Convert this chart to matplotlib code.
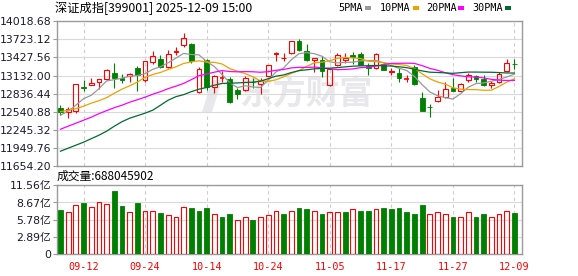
import matplotlib
matplotlib.use('Agg')
import matplotlib.pyplot as plt
from matplotlib.patches import Rectangle, Polygon

dates = ['09-09','09-10','09-11','09-12','09-15','09-16','09-17','09-18','09-19','09-22',
         '09-23','09-24','09-25','09-26','09-29','09-30','10-09','10-10','10-13','10-14',
         '10-15','10-16','10-17','10-20','10-21','10-22','10-23','10-24','10-27','10-28',
         '10-29','10-30','10-31','11-03','11-04','11-05','11-06','11-07','11-10','11-11',
         '11-12','11-13','11-14','11-17','11-18','11-19','11-20','11-21','11-24','11-25',
         '11-26','11-27','11-28','12-01','12-02','12-03','12-04','12-05','12-08','12-09']

opens = [12598, 12544, 12549, 12946, 12979, 13034, 13077, 13175, 13088, 13126,
         13252, 13051, 13345, 13394, 13263, 13518, 13622, 13648, 12855, 13382,
         12941, 13083, 13077, 12892, 12897, 13034, 12995, 13126, 13488, 13412,
         13496, 13688, 13524, 13377, 13387, 12969, 13296, 13387, 13469, 13480,
         13279, 13252, 13317, 13194, 13170, 13072, 13263, 12762, 12618, 12708,
         12778, 12925, 12887, 13051, 13132, 13072, 12969, 13034, 13198, 13322]
highs = [12656, 12615, 12995, 13051, 13088, 13080, 13240, 13333, 13154, 13170,
         13289, 13366, 13524, 13469, 13546, 13603, 13823, 13660, 13263, 13398,
         13142, 13208, 13105, 12925, 13116, 13088, 13088, 13300, 13513, 13496,
         13692, 13725, 13643, 13415, 13443, 13243, 13496, 13496, 13513, 13513,
         13333, 13496, 13333, 13252, 13252, 13142, 13296, 12860, 12664, 12897,
         13023, 13088, 13007, 13170, 13137, 13142, 13045, 13181, 13403, 13403]
lows = [12484, 12435, 12517, 12887, 12969, 12909, 13051, 12936, 13012, 13018,
        12887, 13034, 13317, 13252, 13252, 13472, 13590, 13333, 12843, 12897,
        12843, 13034, 12688, 12750, 12871, 12925, 12832, 13121, 13361, 13371,
        13488, 13524, 13374, 13186, 13105, 12966, 13292, 13333, 13317, 13305,
        13137, 13240, 13219, 13142, 13034, 13023, 12979, 12554, 12447, 12705,
        12770, 12871, 12860, 13023, 13034, 12953, 12936, 13007, 13194, 13240]
closes = [12533, 12582, 12990, 12936, 13007, 13072, 13219, 13088, 13056, 13158,
          13142, 13361, 13448, 13268, 13480, 13529, 13741, 13361, 13230, 12941,
          13116, 13088, 12696, 12832, 13088, 13018, 13051, 13296, 13496, 13418,
          13688, 13550, 13382, 13410, 13202, 13235, 13469, 13420, 13430, 13306,
          13252, 13480, 13224, 13203, 13088, 13077, 12990, 12554, 12611, 12778,
          12909, 12881, 12990, 13142, 13077, 12969, 13007, 13154, 13333, 13312]

# volume in 亿
volumes = [7.4, 7.0, 8.2, 8.6, 7.9, 8.7, 8.4, 10.6, 8.1, 7.0,
           8.6, 7.2, 7.2, 6.9, 6.5, 6.3, 7.9, 7.7, 7.2, 7.8,
           6.7, 6.3, 6.7, 5.8, 6.3, 5.8, 6.2, 6.5, 7.2, 6.8,
           7.3, 7.7, 7.5, 7.2, 6.8, 7.0, 7.0, 7.0, 7.5, 7.3,
           7.3, 7.5, 7.7, 7.5, 7.8, 7.0, 6.7, 8.2, 6.8, 7.0,
           6.8, 6.3, 6.2, 7.0, 6.3, 6.8, 6.3, 6.7, 7.3, 6.88]
vol_up = [0, 1, 1, 0, 1, 1, 1, 0, 0, 1,
          0, 1, 1, 0, 1, 1, 1, 0, 0, 0,
          1, 0, 0, 1, 1, 0, 1, 1, 1, 0,
          1, 0, 0, 1, 0, 1, 1, 0, 1, 0,
          0, 1, 0, 0, 0, 0, 0, 0, 1, 1,
          1, 0, 1, 1, 0, 0, 1, 1, 1, 0]

ma5 = [12484, 12549, 12647, 12753, 12809, 12917, 13044, 13064, 13088, 13119,
       13132, 13162, 13234, 13276, 13340, 13416, 13493, 13475, 13469, 13361,
       13278, 13147, 13015, 12935, 12964, 12945, 12936, 13057, 13190, 13255,
       13389, 13488, 13506, 13488, 13446, 13354, 13338, 13346, 13349, 13372,
       13376, 13377, 13338, 13292, 13250, 13214, 13116, 12982, 12865, 12802,
       12770, 12747, 12835, 12940, 13000, 13011, 13038, 13070, 13108, 13155]
ma10 = [12541, 12566, 12590, 12631, 12680, 12721, 12770, 12843, 12909, 12964,
        13025, 13103, 13149, 13182, 13230, 13274, 13328, 13354, 13372, 13350,
        13347, 13320, 13245, 13202, 13163, 13111, 13042, 13036, 13062, 13110,
        13167, 13212, 13282, 13339, 13350, 13372, 13413, 13426, 13419, 13409,
        13365, 13358, 13342, 13321, 13311, 13295, 13247, 13160, 13078, 13026,
        12992, 12931, 12909, 12902, 12901, 12891, 12892, 12953, 13024, 13078]
ma20 = [12255, 12304, 12353, 12402, 12451, 12509, 12558, 12607, 12647, 12696,
        12737, 12778, 12827, 12868, 12917, 12958, 13002, 13064, 13129, 13157,
        13186, 13212, 13197, 13192, 13196, 13193, 13185, 13195, 13217, 13230,
        13256, 13266, 13263, 13270, 13256, 13242, 13227, 13231, 13240, 13260,
        13266, 13285, 13312, 13330, 13331, 13333, 13330, 13293, 13248, 13217,
        13178, 13145, 13126, 13111, 13106, 13093, 13069, 13056, 13051, 13052]
ma30 = [11896, 11945, 11994, 12043, 12100, 12157, 12223, 12304, 12378, 12435,
        12476, 12517, 12566, 12647, 12729, 12786, 12819, 12868, 12909, 12936,
        12974, 13002, 13007, 13011, 13018, 13023, 13039, 13080, 13121, 13141,
        13180, 13212, 13225, 13241, 13247, 13252, 13261, 13273, 13284, 13289,
        13292, 13297, 13289, 13287, 13274, 13260, 13234, 13207, 13186, 13181,
        13175, 13167, 13178, 13188, 13188, 13186, 13185, 13180, 13173, 13172]

price_ticks = [11654.20, 11949.76, 12245.32, 12540.88, 12836.44,
               13132.00, 13427.56, 13723.12, 14018.68]
vol_ticks = [0, 2.89, 5.78, 8.67, 11.56]
vol_tick_labels = ['0', '2.89亿', '5.78亿', '8.67亿', '11.56亿']
label_dates = ['09-12', '09-24', '10-14', '10-24', '11-05', '11-17', '11-27', '12-09']
title_text = '深证成指[399001] 2025-12-09 15:00'
vol_title = '成交量:688045902'
ma_names = ['5PMA', '10PMA', '20PMA', '30PMA']

RED = '#ff0000'
GREEN = '#008000'
MA_COLORS = ['#999999', '#f0a000', '#ff00ff', '#006b33']
SPINE = '#9a9a9a'

W, H = 578, 276
fig = plt.figure(figsize=(W / 100, H / 100), dpi=100)


def rect(l, t, r, b):
    return [l / W, 1 - b / H, (r - l) / W, (b - t) / H]


ax = fig.add_axes(rect(57, 21.2, 522, 166))
axv = fig.add_axes(rect(57, 185.3, 522, 254))

n = len(closes)
xs = list(range(n))
xlim = (-0.45, n - 1 + 0.98)
label_pos = [dates.index(d) for d in label_dates]

for a in (ax, axv):
    a.set_xlim(*xlim)
    for s in a.spines.values():
        s.set_color(SPINE)
        s.set_linewidth(1.0)
    for p in label_pos:
        a.axvline(p, color='#cccccc', lw=0.8, ls=(0, (3, 3)), zorder=0)
    a.tick_params(axis='y', length=3, width=0.8, color=SPINE, pad=1,
                  labelcolor='#1a1a2e')

# watermark
ax.text(0.535, 0.49, '东方财富', transform=ax.transAxes, ha='center', va='center',
        fontsize=24, fontweight='bold', color='#e8e8ec',
        family=['Noto Sans CJK SC'], zorder=0)
px2 = lambda x, y: ((x - 57) / 465, (166 - y) / 144.8)
logo = Polygon([px2(212, 80), px2(222, 80), px2(212, 112), px2(202, 112)],
               closed=True, transform=ax.transAxes, facecolor='#e8e8ec',
               edgecolor='none', zorder=0)
ax.add_patch(logo)

# price grid
ax.set_ylim(price_ticks[0], price_ticks[-1])
ax.set_yticks(price_ticks)
ax.set_yticklabels(['%.2f' % v for v in price_ticks], fontsize=7.8,
                   family='DejaVu Sans')
for v in price_ticks[1:-1]:
    ax.axhline(v, color='#dadada', lw=0.8, zorder=0)
ax.set_xticks([])

# candles
w = 0.62
for i in xs:
    o, h, l, c = opens[i], highs[i], lows[i], closes[i]
    up = c >= o
    col = RED if up else GREEN
    lo, hi = min(o, c), max(o, c)
    if hi - lo < 6:
        ax.vlines(i, l, h, color=col, lw=0.8, zorder=3)
        ax.hlines((o + c) / 2, i - w / 2, i + w / 2, color=col, lw=1.2, zorder=3)
        continue
    if up:
        ax.add_patch(Rectangle((i - w / 2, lo), w, hi - lo, facecolor='none',
                               edgecolor=col, lw=0.8, zorder=3))
        ax.vlines(i, hi, h, color=col, lw=0.8, zorder=3)
        ax.vlines(i, l, lo, color=col, lw=0.8, zorder=3)
    else:
        ax.vlines(i, l, h, color=col, lw=0.8, zorder=3)
        ax.add_patch(Rectangle((i - w / 2, lo), w, hi - lo, facecolor=col,
                               edgecolor=col, lw=0.6, zorder=3))

for ma, colr in zip([ma5, ma10, ma20, ma30], MA_COLORS):
    ax.plot(xs, ma, color=colr, lw=0.9, zorder=4)

# volume
axv.set_ylim(0, vol_ticks[-1])
axv.set_yticks(vol_ticks)
axv.set_yticklabels(vol_tick_labels, fontsize=7.8,
                    family=['DejaVu Sans', 'Noto Sans CJK SC'])
for v in vol_ticks[1:-1]:
    axv.axhline(v, color='#dadada', lw=0.8, zorder=0)
for i in xs:
    if vol_up[i]:
        axv.add_patch(Rectangle((i - w / 2, 0), w, volumes[i], facecolor='none',
                                edgecolor=RED, lw=0.8, zorder=3))
    else:
        axv.add_patch(Rectangle((i - w / 2, 0), w, volumes[i], facecolor=GREEN,
                                edgecolor=GREEN, lw=0.6, zorder=3))
axv.set_xticks(label_pos)
axv.set_xticklabels(label_dates, fontsize=7.3, family='DejaVu Sans Mono',
                    color=RED)
axv.tick_params(axis='x', length=0, pad=6.0)

# titles
fig.text(55 / W, 1 - 8.3 / H, title_text, ha='left', va='center', fontsize=8.8,
         family=['Noto Sans CJK SC', 'DejaVu Sans'], color='#000000')
fig.text(57 / W, 1 - 176.7 / H, vol_title, ha='left', va='center', fontsize=8.5,
         family=['Noto Sans CJK SC', 'DejaVu Sans'], color='#000000')

# legend
leg_x = [338, 380, 426, 472]
sq_x = [365, 413, 458, 505]
for name, tx, sx, colr in zip(ma_names, leg_x, sq_x, MA_COLORS):
    fig.text(tx / W, 1 - 8.3 / H, name, ha='left', va='center', fontsize=7.3,
             family='DejaVu Sans Mono', color='#000000')
    fig.patches.append(Rectangle((sx / W, 1 - 10 / H), 6 / W, 3.5 / H,
                                 transform=fig.transFigure, facecolor=colr,
                                 edgecolor='none'))

fig.savefig('out.png', dpi=100)
